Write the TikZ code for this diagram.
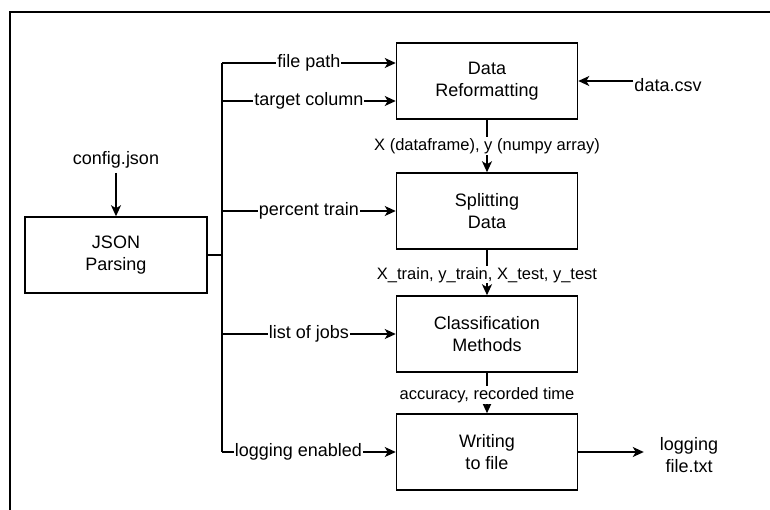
\documentclass[tikz,border=0pt]{standalone}
\usepackage{fontspec}
\setmainfont{Liberation Sans}
\usetikzlibrary{arrows.meta}
\begin{document}
\begin{tikzpicture}[x=1pt,y=-1pt,
  blk/.style={draw, line width=1.5pt, minimum width=181pt, minimum height=76pt, align=center, inner sep=0pt, font=\fontsize{18}{21.6}\selectfont, execute at begin node={\vspace*{5pt}}},
  txt/.style={align=center, inner sep=1pt, font=\fontsize{18}{21.6}\selectfont},
  lab/.style={fill=white, inner sep=1pt, font=\fontsize{18}{21.6}\selectfont},
  vlab/.style={fill=white, inner sep=1pt, font=\fontsize{16.5}{20}\selectfont},
  conn/.style={line width=1.5pt, -{Stealth[length=11pt,width=10pt,inset=3pt]}},
  wire/.style={line width=1.5pt}]
\useasboundingbox (0,0) rectangle (770,510);
% outer frame (only top and left edges visible)
\draw[line width=2.5pt] (10,515) -- (10,12) -- (775,12);

% blocks
\node[blk] (dr) at (487,81) {Data\\Reformatting};
\node[blk] (sd) at (487,211) {Splitting\\Data};
\node[blk] (cm) at (487,334) {Classification\\Methods};
\node[blk] (wf) at (487,452) {Writing\\to file};
\node[blk, minimum width=182pt] (jp) at (116,255) {JSON\\Parsing};

% free texts
\node[txt] (cfg) at (116,160) {config.json};
\node[txt] (csv) at (668,85) {data.csv};
\node[txt] (logf) at (689,455) {logging\\file.txt};

% bus coordinates
\coordinate (btop) at (222,63);
\coordinate (b2) at (222,101);
\coordinate (bj) at (222,255);
\coordinate (bbot) at (222,452);

% bus and feeder
\draw[line width=2.2pt] (jp.east) -- (bj);
\draw[wire] (btop) -- (bbot);

% bus outputs
\draw[conn] (btop) -- node[lab] {file path} (dr.west |- btop);
\draw[conn] (b2) -- node[lab] {target column} (dr.west |- b2);
\draw[conn] (bj |- sd.west) -- node[lab] {percent train} (sd.west);
\draw[conn] (bj |- cm.west) -- node[lab] {list of jobs} (cm.west);
\draw[conn] (bbot) -- node[lab, pos=0.44] {logging enabled} (wf.west);

% main chain
\draw[conn] (cfg) ++(0,13) -- (jp.north);
\draw[conn] (csv.west |- dr.east) -- (dr.east);
\draw[conn] (dr.south) -- node[vlab] {X (dataframe), y (numpy array)} (sd.north);
\draw[conn] (sd.south) -- node[vlab, pos=0.55] {X\_train, y\_train, X\_test, y\_test} (cm.north);
\draw[conn] (cm.south) -- node[vlab, pos=0.55] {accuracy, recorded time} (wf.north);
\draw[conn, shorten >=15pt] (wf.east) -- (wf.east -| logf.west);
\end{tikzpicture}
\end{document}
